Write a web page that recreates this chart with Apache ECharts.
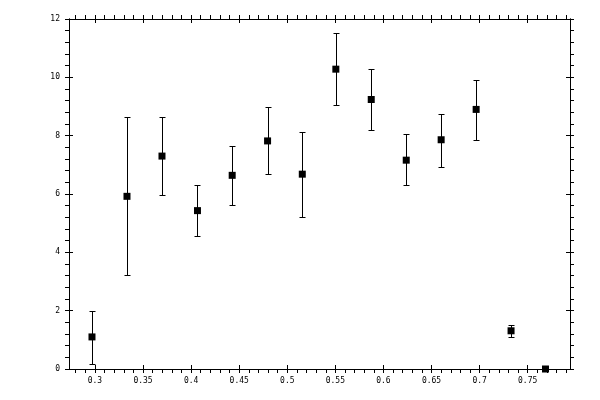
<!DOCTYPE html>
<html>
<head>
	<meta charset="utf-8">
	<title>Scatter with error bars</title>
	<script src="https://cdn.jsdelivr.net/npm/echarts@6/dist/echarts.min.js"></script>
	<style>
		html, body { margin: 0; padding: 0; background: #fff; }
		#main { width: 600px; height: 400px; }
	</style>
</head>
<body>
<div id="main"></div>
<script type="text/javascript">
	// measured points
	var xVals = [0.2969, 0.3333, 0.3697, 0.4066, 0.4427, 0.4795, 0.5156, 0.5505, 0.5873, 0.6237, 0.6600, 0.6964, 0.7327, 0.7685];
	var yVals = [1.10, 5.92, 7.30, 5.43, 6.64, 7.82, 6.68, 10.28, 9.24, 7.16, 7.86, 8.90, 1.31, 0.00];
	var yLow  = [0.16, 3.22, 5.95, 4.56, 5.64, 6.68, 5.22, 9.04, 8.20, 6.30, 6.92, 7.86, 1.10, 0.00];
	var yHigh = [1.99, 8.65, 8.65, 6.32, 7.64, 8.97, 8.12, 11.53, 10.28, 8.07, 8.76, 9.90, 1.51, 0.00];

	// x axis tick labels and tick marks
	var xMajor = [0.3, 0.35, 0.4, 0.45, 0.5, 0.55, 0.6, 0.65, 0.7, 0.75];
	var xAllTicks = [0.28, 0.29, 0.3, 0.31, 0.32, 0.33, 0.34, 0.35, 0.36, 0.37, 0.38, 0.39,
		0.4, 0.41, 0.42, 0.43, 0.44, 0.45, 0.46, 0.47, 0.48, 0.49, 0.5, 0.51, 0.52, 0.53,
		0.54, 0.55, 0.56, 0.57, 0.58, 0.59, 0.6, 0.61, 0.62, 0.63, 0.64, 0.65, 0.66, 0.67,
		0.68, 0.69, 0.7, 0.71, 0.72, 0.73, 0.74, 0.75, 0.76, 0.77, 0.78, 0.79];

	var xMin = 0.273, xMax = 0.794;

	function xAxisDef(pos, inside, withLabels) {
		return {
			type: 'value', position: pos, min: xMin, max: xMax,
			axisLine: {show: true, onZero: false, lineStyle: {color: '#000', width: 1}},
			axisTick: {show: true, inside: inside, length: 4, lineStyle: {color: '#000', width: 1},
				customValues: inside ? xMajor : xAllTicks},
			axisLabel: withLabels ? {show: true, customValues: xMajor, margin: 8,
				color: '#000', fontSize: 8, fontFamily: 'DejaVu Sans Mono'} : {show: false},
			splitLine: {show: false}
		};
	}

	function yAxisDef(pos, inside, withLabels) {
		return {
			type: 'value', position: pos, min: 0, max: 12, interval: 2,
			axisLine: {show: true, onZero: false, lineStyle: {color: '#000', width: 1}},
			axisTick: {show: true, inside: inside, length: 4, lineStyle: {color: '#000', width: 1}},
			minorTick: {show: !inside, splitNumber: 5, length: 4, lineStyle: {color: '#000', width: 1}},
			axisLabel: withLabels ? {show: true, margin: 9, color: '#000', fontSize: 8,
				fontFamily: 'DejaVu Sans Mono'} : {show: false},
			splitLine: {show: false},
			minorSplitLine: {show: false}
		};
	}

	var pts = [], bars = [];
	for (var i = 0; i < xVals.length; i++) {
		pts.push([xVals[i], yVals[i]]);
		bars.push([xVals[i], yLow[i], yHigh[i]]);
	}

	var myChart = echarts.init(document.getElementById('main'));
	myChart.setOption({
		animation: false,
		backgroundColor: '#fff',
		grid: {left: 69, right: 30, top: 19, bottom: 31},
		xAxis: [
			xAxisDef('bottom', false, true),
			xAxisDef('bottom', true, false),
			xAxisDef('top', false, false),
			xAxisDef('top', true, false)
		],
		yAxis: [
			yAxisDef('left', false, true),
			yAxisDef('left', true, false),
			yAxisDef('right', false, false),
			yAxisDef('right', true, false)
		],
		series: [{
			type: 'custom',
			xAxisIndex: 0, yAxisIndex: 0,
			data: bars,
			z: 2,
			renderItem: function (params, api) {
				var x = api.value(0);
				var lo = api.coord([x, api.value(1)]);
				var hi = api.coord([x, api.value(2)]);
				// snap to half pixels so the 1px lines stay crisp
				var cx = Math.round(lo[0]) + 0.5;
				var y1 = Math.round(lo[1]) + 0.5;
				var y2 = Math.round(hi[1]) + 0.5;
				var st = {stroke: '#000', lineWidth: 1};
				return {
					type: 'group',
					children: [
						{type: 'line', shape: {x1: cx, y1: y1, x2: cx, y2: y2}, style: st},
						{type: 'line', shape: {x1: cx - 3, y1: y1, x2: cx + 3, y2: y1}, style: st},
						{type: 'line', shape: {x1: cx - 3, y1: y2, x2: cx + 3, y2: y2}, style: st}
					]
				};
			}
		}, {
			type: 'scatter',
			xAxisIndex: 0, yAxisIndex: 0,
			data: pts,
			symbol: 'rect',
			symbolSize: 7,
			clip: false,
			z: 3,
			itemStyle: {color: '#000', opacity: 1}
		}]
	});
</script>
</body>
</html>
